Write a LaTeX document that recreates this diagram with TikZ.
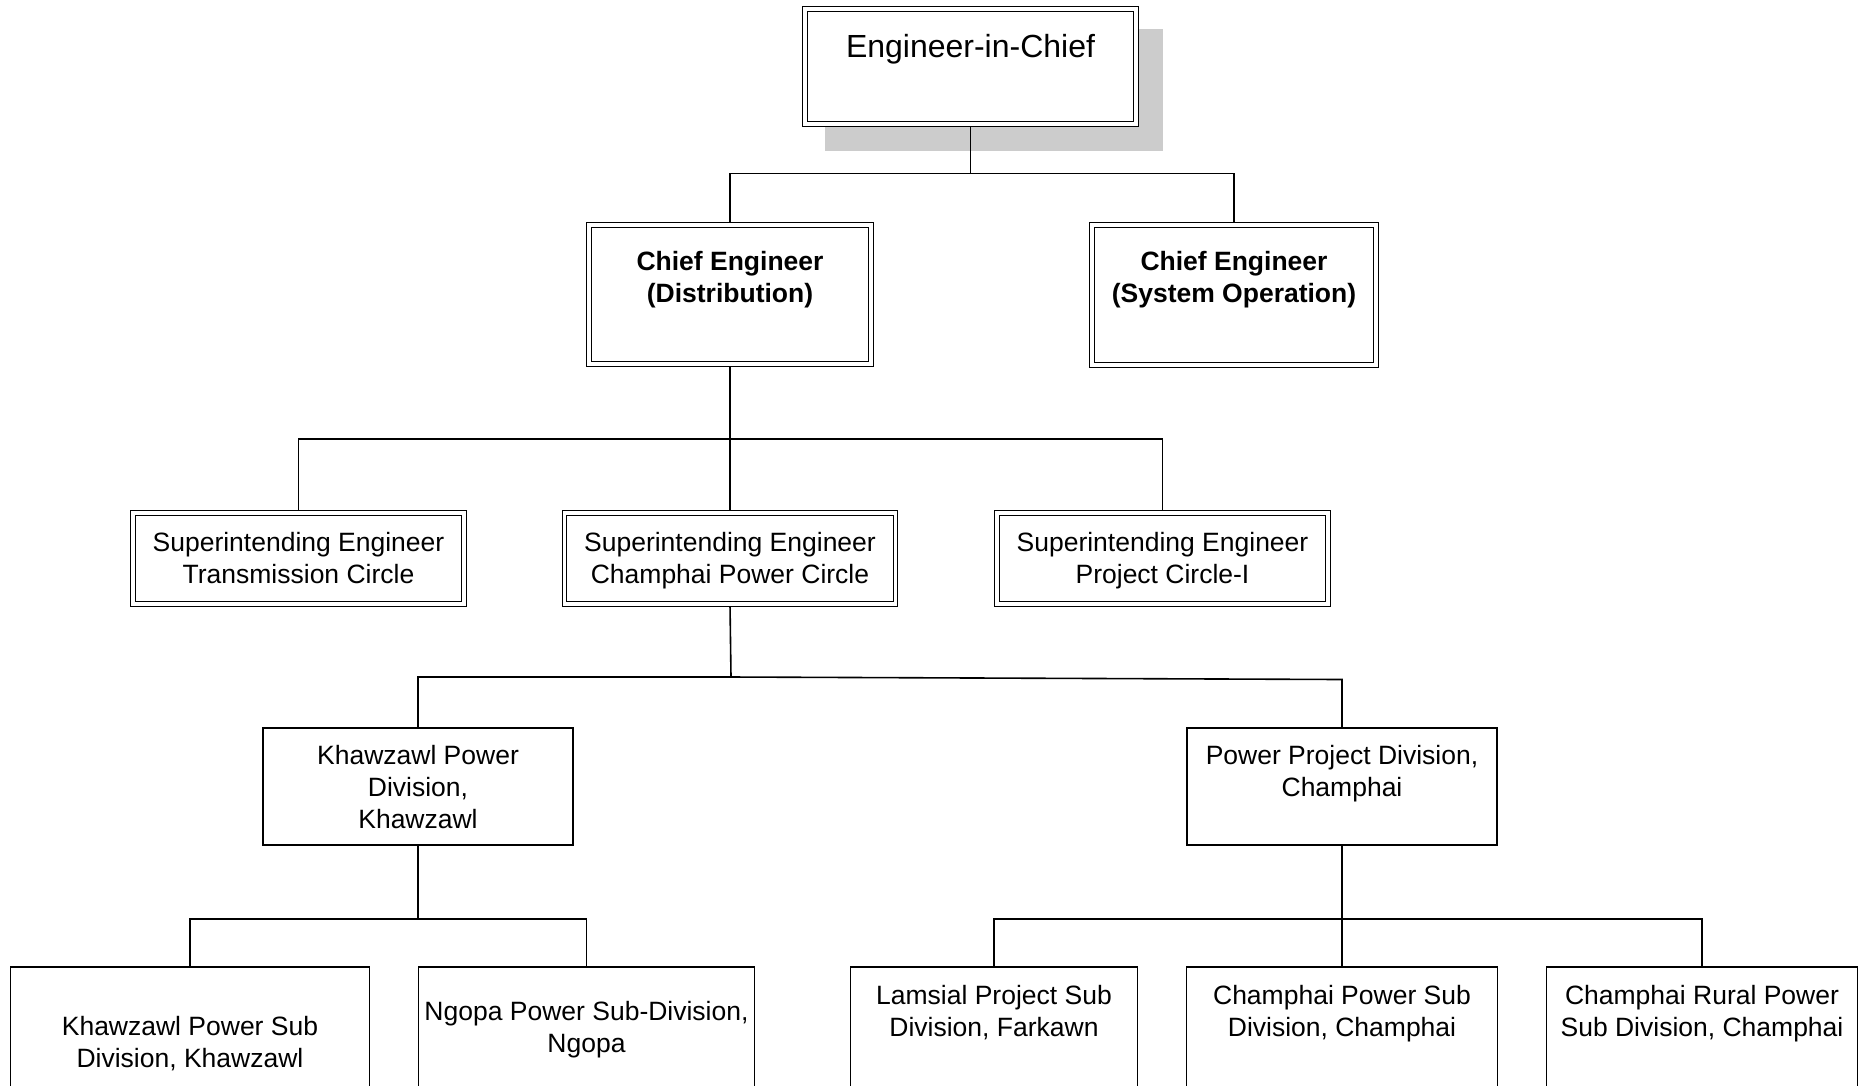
\documentclass[tikz,border=0pt]{standalone}
\usepackage{fontspec}
\setmainfont{Liberation Sans}
\usetikzlibrary{backgrounds,calc}
\newcommand\tlines[1]{\begin{tabular}[t]{@{}c@{}}#1\end{tabular}}
\begin{document}
\begin{tikzpicture}[x=1pt,y=-1pt,
  dbox/.style={draw, double, double distance=3.1pt, line width=1.35pt, fill=white, inner sep=0pt},
  sbox/.style={draw, line width=1.5pt, fill=white, inner sep=0pt},
  lbl/.style={inner sep=0pt, anchor=base, font=\fontsize{26.5}{32}\selectfont},
  blbl/.style={lbl, font=\bfseries\fontsize{26.5}{32}\selectfont},
  conn/.style={line width=1.6pt},
  shadowfill/.style={fill=black!20}
]
\useasboundingbox (0,0) rectangle (1860,1085);
\clip (0,0) rectangle (1860,1085);

% level 1
\node[dbox, minimum width=331pt, minimum height=115pt] (eic) at (970.5,66.5) {};
\node[lbl, font=\fontsize{32}{38}\selectfont] (teic) at (970.5,57) {Engineer-in-Chief};

% level 2
\node[dbox, minimum width=282pt, minimum height=139pt] (ced) at (730,294.5) {};
\node[blbl] (tced) at (730,270) {\tlines{Chief Engineer\\(Distribution)}};
\node[dbox, minimum width=284pt, minimum height=140pt] (ceso) at (1234,295) {};
\node[blbl] (tceso) at (1234,270) {\tlines{Chief Engineer\\(System Operation)}};

% level 3
\node[dbox, minimum width=331pt, minimum height=91pt] (se1) at (298.5,558.5) {};
\node[lbl] (tse1) at (298.5,551) {\tlines{Superintending Engineer\\Transmission Circle}};
\node[dbox, minimum width=331pt, minimum height=91pt] (se2) at (730,558.5) {};
\node[lbl] (tse2) at (730,551) {\tlines{Superintending Engineer\\Champhai Power Circle}};
\node[dbox, minimum width=331pt, minimum height=91pt] (se3) at (1162.5,558.5) {};
\node[lbl] (tse3) at (1162.5,551) {\tlines{Superintending Engineer\\Project Circle-I}};

% level 4
\node[sbox, minimum width=310pt, minimum height=117pt] (kpd) at (418,786.5) {};
\node[lbl] (tkpd) at (418,764) {\tlines{Khawzawl Power\\Division,\\Khawzawl}};
\node[sbox, minimum width=310pt, minimum height=117pt] (ppd) at (1342,786.5) {};
\node[lbl] (tppd) at (1342,764) {\tlines{Power Project Division,\\Champhai}};

% level 5
\node[sbox, minimum width=359pt, minimum height=153pt] (ksd) at (190,1043.5) {};
\node[lbl] (tksd) at (190,1035.5) {\tlines{Khawzawl Power Sub\\Division, Khawzawl}};
\node[sbox, minimum width=336pt, minimum height=153pt] (ngo) at (586.5,1043.5) {};
\node[lbl] (tngo) at (586.5,1020.5) {\tlines{Ngopa Power Sub-Division,\\Ngopa}};
\node[sbox, minimum width=287pt, minimum height=153pt] (lam) at (994,1043.5) {};
\node[lbl] (tlam) at (994,1004.5) {\tlines{Lamsial Project Sub\\Division, Farkawn}};
\node[sbox, minimum width=311pt, minimum height=153pt] (cps) at (1342,1043.5) {};
\node[lbl] (tcps) at (1342,1004.5) {\tlines{Champhai Power Sub\\Division, Champhai}};
\node[sbox, minimum width=311pt, minimum height=153pt] (crp) at (1702,1043.5) {};
\node[lbl] (tcrp) at (1702,1004.5) {\tlines{Champhai Rural Power\\Sub Division, Champhai}};

% junctions
\coordinate (j1) at (970.5,173.5);
\coordinate (j2) at (730,439);
\coordinate (j3) at (731,677);
\coordinate (j3r) at (1342,679.5);
\coordinate (j4) at (418,919);
\coordinate (j5) at (1342,919);

\begin{pgfonlayer}{background}
  \fill[shadowfill] ($(eic.north west)+(20.7,20.7)$) rectangle ($(eic.south east)+(26.3,26.3)$);
  \draw[conn] (eic.south) -- (j1);
  \draw[conn] (ced.north) |- (j1) -| (ceso.north);
  \draw[conn] (ced.south) -- (j2);
  \draw[conn] (se1.north) |- (j2) -| (se3.north);
  \draw[conn] (j2) -- (se2.north);
  \draw[conn] (se2.south) -- (j3);
  \draw[conn] (kpd.north) |- (j3) -- (j3r) -- (ppd.north);
  \draw[conn] (kpd.south) -- (j4);
  \draw[conn] (ksd.north) |- (j4) -| (ngo.north);
  \draw[conn] (ppd.south) -- (j5);
  \draw[conn] (lam.north) |- (j5) -| (crp.north);
  \draw[conn] (j5) -- (cps.north);
\end{pgfonlayer}
\end{tikzpicture}
\end{document}
